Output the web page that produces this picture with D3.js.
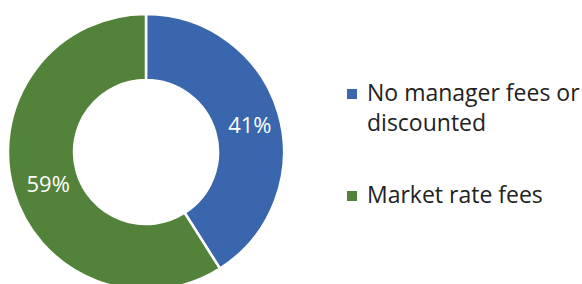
<!DOCTYPE html>
<html>
<head>
<meta charset="utf-8">
<script src="https://cdn.jsdelivr.net/npm/d3@7"></script>
<style>
  body { margin: 0; background: #fff; }
  svg { display: block; font-family: "Open Sans", "Noto Sans", sans-serif; }
</style>
</head>
<body>
<div class="donut-chart"></div>
<script>
const categories = ['No manager fees or discounted', 'Market rate fees'];
const legendLines = [['No manager fees or', 'discounted'], ['Market rate fees']];
const shares = [41, 59];
const colors = ['#3A66AE', '#53833B'];

const svgwidth = 582;
const svgheight = 284;
const cx = 146, cy = 152;
const outerR = 138, innerR = 72;

const svg = d3.select('.donut-chart').append('svg')
    .attr('width', svgwidth)
    .attr('height', svgheight)

const data = categories.map((c, i) => ({ name: c, value: shares[i], color: colors[i], lines: legendLines[i] }));

const pie = d3.pie().sort(null).value(d => d.value);
const arc = d3.arc().innerRadius(innerR).outerRadius(outerR);

const g = svg.append('g').attr('transform', `translate(${cx},${cy})`);

g.selectAll('path')
    .data(pie(data))
    .enter()
    .append('path')
    .attr('d', arc)
    .attr('fill', d => d.data.color)
    .attr('stroke', '#fff')
    .attr('stroke-width', 2.5)

// percentage labels sit near the arc centroid
g.selectAll('text')
    .data(pie(data))
    .enter()
    .append('text')
    .attr('x', d => arc.centroid(d)[0] + 3)
    .attr('y', d => arc.centroid(d)[1] + 10.5)
    .attr('text-anchor', 'middle')
    .attr('fill', '#fff')
    .attr('font-size', 22)
    .text(d => d.data.value + '%')

// legend
const legendY = [101, 203];
const legend = svg.selectAll('.legend')
    .data(data)
    .enter()
    .append('g')
    .attr('class', 'legend')
    .attr('transform', (d, i) => `translate(347,${legendY[i]})`)

legend.append('rect')
    .attr('x', 0)
    .attr('y', -12)
    .attr('width', 10)
    .attr('height', 10)
    .attr('fill', d => d.color)

legend.append('text')
    .attr('font-size', 23)
    .attr('fill', '#222')
    .selectAll('tspan')
    .data(d => d.lines)
    .enter()
    .append('tspan')
    .attr('x', 20)
    .attr('y', (d, i) => i * 30)
    .text(d => d)
</script>
</body>
</html>
